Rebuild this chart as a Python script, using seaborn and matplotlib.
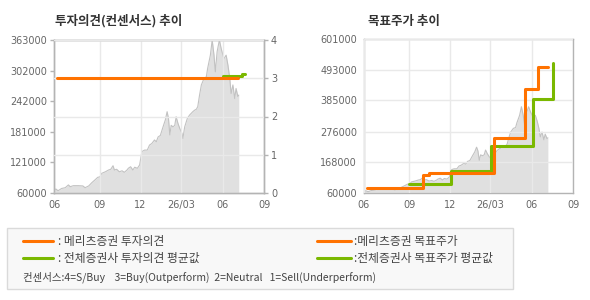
import matplotlib
matplotlib.use("Agg")
import matplotlib.pyplot as plt
import seaborn as sns
import pandas as pd
import numpy as np
from matplotlib.patches import Rectangle
from matplotlib.lines import Line2D

# ---------------- data ----------------
price_dates = ["2025-05-23", "2025-05-27", "2025-06-01", "2025-06-09", "2025-06-17", "2025-06-24",
               "2025-06-28", "2025-07-05", "2025-07-16", "2025-07-26", "2025-07-31", "2025-08-08",
               "2025-08-15", "2025-08-22", "2025-08-28", "2025-09-02", "2025-09-06", "2025-09-14",
               "2025-09-21", "2025-09-26", "2025-10-01", "2025-10-04", "2025-10-09", "2025-10-15",
               "2025-10-21", "2025-10-26", "2025-11-01", "2025-11-04", "2025-11-09", "2025-11-14",
               "2025-11-18", "2025-11-24", "2025-11-29", "2025-12-04", "2025-12-10", "2025-12-16",
               "2025-12-21", "2025-12-26", "2026-01-01", "2026-01-05", "2026-01-09", "2026-01-14",
               "2026-01-20", "2026-01-25", "2026-01-29", "2026-02-01", "2026-02-04", "2026-02-07",
               "2026-02-11", "2026-02-15", "2026-02-18", "2026-02-22", "2026-02-26", "2026-03-03",
               "2026-03-05", "2026-03-09", "2026-03-15", "2026-03-20", "2026-03-27", "2026-03-31",
               "2026-04-04", "2026-04-07", "2026-04-11", "2026-04-15", "2026-04-21", "2026-04-26",
               "2026-04-29", "2026-05-05", "2026-05-09", "2026-05-13", "2026-05-16", "2026-05-20",
               "2026-05-25", "2026-05-29", "2026-06-04", "2026-06-09", "2026-06-13", "2026-06-17",
               "2026-06-20", "2026-06-24", "2026-06-28", "2026-07-01", "2026-07-05", "2026-07-07"]
price_values = [64500, 68000, 64500, 69000, 70500, 76000,
                72500, 74500, 74500, 74000, 70500, 74000,
                80500, 86000, 91000, 92000, 99000, 102000,
                105500, 107000, 114000, 105500, 107000, 102000,
                104000, 101000, 105500, 109000, 112000, 105500,
                111000, 109000, 115500, 142000, 145000, 145000,
                155000, 158000, 165000, 161500, 171000, 174000,
                191000, 204500, 221000, 208000, 175000, 194000,
                191000, 194000, 211000, 198000, 188000, 178000,
                168000, 191000, 208000, 214500, 221000, 224000,
                226000, 231000, 254000, 274000, 287000, 290000,
                307000, 333000, 363000, 333000, 300000, 340000,
                363000, 346000, 326000, 333000, 313000, 287000,
                257000, 274000, 247000, 267000, 251000, 254000]

# investment opinion (consensus) – right axis 0..4
meritz_op_dates = ["2025-05-30", "2026-07-05"]
meritz_op_values = [3.0, 3.0]
all_op_dates = ["2026-06-03", "2026-07-14", "2026-07-20"]
all_op_values = [3.05, 3.1, 3.1]

# target prices (step changes)
meritz_tp_dates = ["2025-05-30", "2025-10-01", "2025-10-15", "2026-03-09", "2026-05-16", "2026-06-15", "2026-07-07"]
meritz_tp_values = [78000, 123000, 130000, 254000, 425000, 501000, 501000]
all_tp_dates = ["2025-09-01", "2025-12-02", "2026-03-03", "2026-06-04", "2026-07-19"]
all_tp_values = [93000, 136000, 226000, 389000, 516000]

xtick_dates = ["2025-05-23", "2025-09-01", "2025-12-01", "2026-03-01", "2026-06-01", "2026-09-01"]
xtick_labels = ["06", "09", "12", "26/03", "06", "09"]
left_yticks = [60000, 121000, 181000, 242000, 302000, 363000]
right_yticks = [60000, 168000, 276000, 385000, 493000, 601000]
op_ticks = [0, 1, 2, 3, 4]

titles = ["투자의견(컨센서스) 추이", "목표주가 추이"]
legend_items = [": 메리츠증권 투자의견", ": 전체증권사 투자의견 평균값",
                ":메리츠증권 목표주가", ":전체증권사 목표주가 평균값"]
consensus_note = "컨센서스:4=S/Buy    3=Buy(Outperform)  2=Neutral   1=Sell(Underperform)"

# ---------------- style ----------------
sns.set_theme(style="white")
plt.rcParams["font.family"] = ["DejaVu Sans", "Noto Sans CJK KR"]
KR = ["Noto Sans CJK KR", "DejaVu Sans"]

ORANGE = "#ff7200"
GREEN = "#7ab800"
FILL = "#e0e0e0"
OUTLINE = "#c2c2c2"
GRID = "#e9e9e9"
SPINE = "#b4b4b4"
TICKC = "#666666"

price_df = pd.DataFrame({"date": pd.to_datetime(price_dates), "price": price_values})
x0, x1 = pd.Timestamp("2025-05-23"), pd.Timestamp("2026-09-01")

fig = plt.figure(figsize=(5.9, 3.0), dpi=100)
axL = fig.add_axes([54/590, 107/300, 210/590, 153/300])
axR = fig.add_axes([364/590, 107/300, 209/590, 154/300])


def style_axis(ax):
    for s in ax.spines.values():
        s.set_color(SPINE)
        s.set_linewidth(1.0)
    ax.tick_params(colors=SPINE, labelcolor=TICKC, labelsize=7, length=3, width=1, pad=2)


def draw_price(ax, ymin):
    ax.fill_between(price_df["date"], price_df["price"], ymin, color=FILL, lw=0, zorder=1)
    sns.lineplot(data=price_df, x="date", y="price", ax=ax, color=OUTLINE, lw=0.8, zorder=1.5)


# ----- left chart -----
draw_price(axL, 60000)
axL.set_xlim(x0, x1)
axL.set_ylim(60000, 363000)
axL.set_yticks(left_yticks)
axL.set_yticklabels([str(v) for v in left_yticks])
axL.set_xticks(pd.to_datetime(xtick_dates))
axL.set_xticklabels(xtick_labels)
axL.set_xlabel("")
axL.set_ylabel("")
axL.set_axisbelow(False)
axL.grid(axis="x", color=GRID, lw=1, zorder=2.5)
style_axis(axL)

axL2 = axL.twinx()
axL2.set_ylim(0, 4)
axL2.set_yticks(op_ticks)
axL2.set_yticklabels([str(v) for v in op_ticks])
axL2.set_axisbelow(False)
axL2.grid(axis="y", color=GRID, lw=1, zorder=0.5)
sns.lineplot(x=pd.to_datetime(all_op_dates), y=all_op_values, ax=axL2, color=GREEN,
             lw=2.2, drawstyle="steps-post", zorder=3)
sns.lineplot(x=pd.to_datetime(meritz_op_dates), y=meritz_op_values, ax=axL2, color=ORANGE,
             lw=2.2, drawstyle="steps-post", zorder=3)
axL2.set_xlim(x0, x1)
style_axis(axL2)

# ----- right chart -----
draw_price(axR, 60000)
axR.set_axisbelow(False)
axR.grid(True, color=GRID, lw=1, zorder=2.5)
sns.lineplot(x=pd.to_datetime(all_tp_dates), y=all_tp_values, ax=axR, color=GREEN,
             lw=2.2, drawstyle="steps-post", zorder=3)
sns.lineplot(x=pd.to_datetime(meritz_tp_dates), y=meritz_tp_values, ax=axR, color=ORANGE,
             lw=2.2, drawstyle="steps-post", zorder=3)
axR.set_xlim(x0, x1)
axR.set_ylim(60000, 601000)
axR.set_yticks(right_yticks)
axR.set_yticklabels([str(v) for v in right_yticks])
axR.set_xticks(pd.to_datetime(xtick_dates))
axR.set_xticklabels(xtick_labels)
axR.set_xlabel("")
axR.set_ylabel("")
style_axis(axR)

# ----- titles -----
fig.text(55/590, 1 - 21/300, titles[0], family=KR, fontsize=9, fontweight="bold",
         color="#333333", va="center", ha="left")
fig.text(368/590, 1 - 21/300, titles[1], family=KR, fontsize=9, fontweight="bold",
         color="#333333", va="center", ha="left")

# ----- legend box -----
fig.patches.append(Rectangle((7/590, 1 - 289/300), 506/590, 61/300, transform=fig.transFigure,
                             facecolor="#f8f8f8", edgecolor="#dadada", lw=1))
rows = [241, 258]
cols = [(23, 53, 58), (317, 351, 354)]
colors = [ORANGE, GREEN]
k = 0
for ci, (xa, xb, xt) in enumerate(cols):
    for ri, yy in enumerate(rows):
        yf = 1 - yy/300
        fig.lines.append(Line2D([xa/590, xb/590], [yf, yf], transform=fig.transFigure,
                                color=colors[ri], lw=2.2))
        fig.text(xt/590, yf, legend_items[k], family=KR, fontsize=8.5, color="#444444",
                 va="center", ha="left")
        k += 1
fig.text(23/590, 1 - 277/300, consensus_note, family=KR, fontsize=7.5, color="#444444",
         va="center", ha="left")

fig.savefig("out.png", dpi=100)
